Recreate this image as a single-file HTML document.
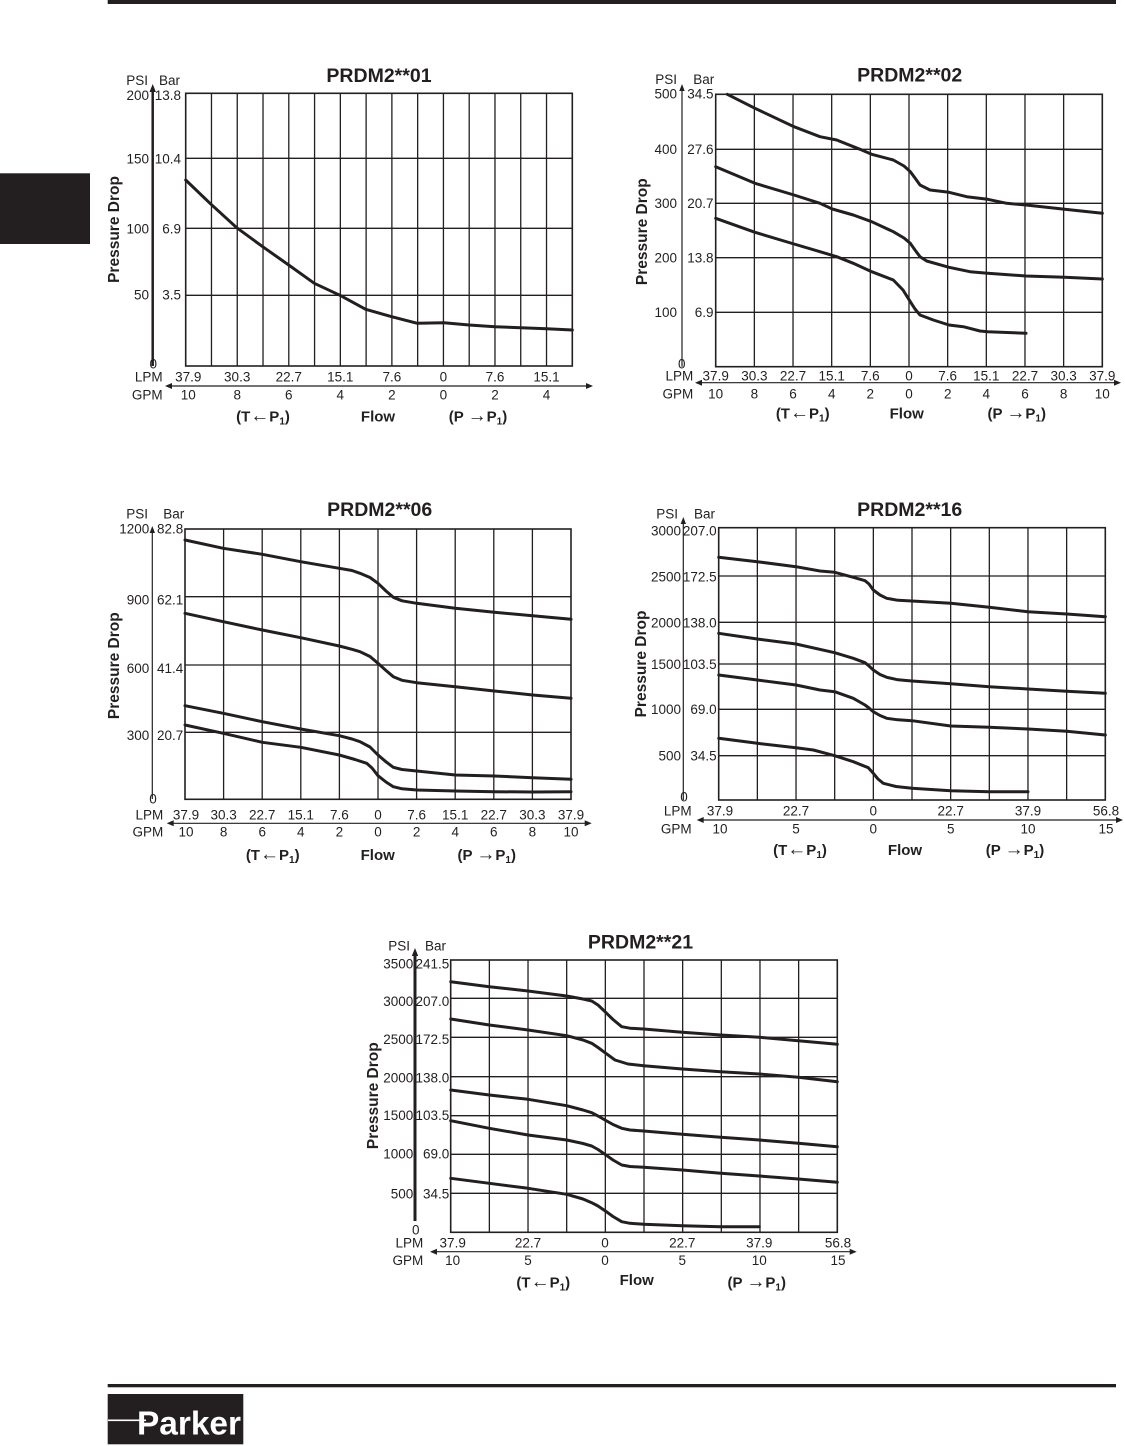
<!DOCTYPE html>
<html><head><meta charset="utf-8"><style>
html,body{margin:0;padding:0;background:#fff;}
svg{display:block;}
text{font-family:"Liberation Sans",Arial,sans-serif;fill:#231f20;}
.tk{font-size:13.5px;}
.e{text-anchor:end;}
.m{text-anchor:middle;}
.ttl{font-size:19.5px;font-weight:bold;text-anchor:middle;}
.pd{font-size:15.5px;font-weight:bold;text-anchor:middle;}
.fl{font-size:15px;font-weight:bold;text-anchor:middle;}
.ar{font-size:19px;font-weight:normal;}
.g{stroke:#231f20;stroke-width:1.3;fill:none;}
.bx{stroke:#231f20;stroke-width:1.6;fill:none;}
.c{stroke:#231f20;stroke-width:3;fill:none;stroke-linejoin:round;stroke-linecap:round;}
.ax{stroke:#231f20;stroke-width:1.2;}
</style></head><body>
<svg width="1125" height="1446" viewBox="0 0 1125 1446" xmlns="http://www.w3.org/2000/svg">
<rect x="0" y="0" width="1125" height="1446" fill="#fff"/>
<rect x="107.7" y="0" width="1008.3" height="4" fill="#231f20"/>
<rect x="0" y="173.3" width="90" height="70.7" fill="#231f20"/>

<!-- ================= CHART 1 ================= -->
<text class="ttl" x="379" y="82">PRDM2**01</text>
<text class="tk e" x="148" y="85">PSI</text>
<text class="tk" x="159" y="85">Bar</text>
<text class="tk e" x="149" y="100">200</text><text class="tk e" x="181" y="100">13.8</text>
<text class="tk e" x="149" y="163.3">150</text><text class="tk e" x="181" y="163.3">10.4</text>
<text class="tk e" x="149" y="233.3">100</text><text class="tk e" x="181" y="233.3">6.9</text>
<text class="tk e" x="149" y="299.3">50</text><text class="tk e" x="181" y="299.3">3.5</text>
<text class="tk m" x="153.3" y="368.3">0</text>
<path class="g" d="M211.47 93.3V366M237.25 93.3V366M263.02 93.3V366M288.79 93.3V366M314.57 93.3V366M340.34 93.3V366M366.11 93.3V366M391.88 93.3V366M417.66 93.3V366M443.43 93.3V366M469.2 93.3V366M494.98 93.3V366M520.75 93.3V366M546.52 93.3V366M185.7 158.3H572.3M185.7 228.3H572.3M185.7 295.3H572.3"/>
<rect class="bx" x="185.7" y="93.3" width="386.6" height="272.7"/>
<line x1="152.7" y1="366" x2="152.7" y2="90" stroke="#231f20" stroke-width="2.5"/>
<polygon points="152.7,84 149.5,92 155.9,92" fill="#231f20"/>
<line class="ax" x1="170" y1="386" x2="588" y2="386"/>
<polygon points="165,386 172,383 172,389" fill="#231f20"/>
<polygon points="593,386 586,383 586,389" fill="#231f20"/>
<text class="tk e" x="162.7" y="381.7">LPM</text>
<text class="tk e" x="162.7" y="399.3">GPM</text>
<g>
<text class="tk m" x="188.3" y="381.7">37.9</text><text class="tk m" x="237.2" y="381.7">30.3</text><text class="tk m" x="288.8" y="381.7">22.7</text><text class="tk m" x="340.3" y="381.7">15.1</text><text class="tk m" x="391.9" y="381.7">7.6</text><text class="tk m" x="443.4" y="381.7">0</text><text class="tk m" x="495" y="381.7">7.6</text><text class="tk m" x="546.5" y="381.7">15.1</text>
<text class="tk m" x="188.3" y="399.3">10</text><text class="tk m" x="237.2" y="399.3">8</text><text class="tk m" x="288.8" y="399.3">6</text><text class="tk m" x="340.3" y="399.3">4</text><text class="tk m" x="391.9" y="399.3">2</text><text class="tk m" x="443.4" y="399.3">0</text><text class="tk m" x="495" y="399.3">2</text><text class="tk m" x="546.5" y="399.3">4</text>
</g>
<text class="fl" x="263" y="421.7">(T<tspan class="ar">←</tspan>P<tspan font-size="10" dy="3">1</tspan><tspan dy="-3">)</tspan></text>
<text class="fl" x="378" y="421.7">Flow</text>
<text class="fl" x="478" y="421.7">(P <tspan class="ar">→</tspan>P<tspan font-size="10" dy="3">1</tspan><tspan dy="-3">)</tspan></text>
<text class="pd" transform="translate(119,229.5) rotate(-90)">Pressure Drop</text>
<polyline class="c" points="185.7,180 210,203.3 236.7,227.7 262.7,246.7 288.7,265 314.3,283.3 340,295.3 365.7,309.3 391.7,316.7 417.3,323.3 444,322.7 469,325 495,326.7 520.7,327.7 546.7,328.7 572.3,330"/>

<!-- ================= CHART 2 ================= -->
<text class="ttl" x="909.7" y="81.7">PRDM2**02</text>
<text class="tk e" x="677" y="84">PSI</text>
<text class="tk" x="693.3" y="84">Bar</text>
<text class="tk e" x="677" y="98.5">500</text><text class="tk e" x="713.5" y="98.5">34.5</text>
<text class="tk e" x="677" y="154">400</text><text class="tk e" x="713.5" y="154">27.6</text>
<text class="tk e" x="677" y="208">300</text><text class="tk e" x="713.5" y="208">20.7</text>
<text class="tk e" x="677" y="262.5">200</text><text class="tk e" x="713.5" y="262.5">13.8</text>
<text class="tk e" x="677" y="317">100</text><text class="tk e" x="713.5" y="317">6.9</text>
<text class="tk m" x="681.7" y="368.3">0</text>
<path class="g" d="M754.36 94.3V366.7M793.02 94.3V366.7M831.68 94.3V366.7M870.34 94.3V366.7M909 94.3V366.7M947.66 94.3V366.7M986.32 94.3V366.7M1024.98 94.3V366.7M1063.64 94.3V366.7M715.7 149.3H1102.3M715.7 203.3H1102.3M715.7 257.7H1102.3M715.7 312.3H1102.3"/>
<rect class="bx" x="715.7" y="94.3" width="386.6" height="272.4"/>
<line class="ax" x1="682" y1="366.7" x2="682" y2="89"/>
<polygon points="682,84 679.3,91 684.7,91" fill="#231f20"/>
<line class="ax" x1="700" y1="382.7" x2="1116" y2="382.7"/>
<polygon points="695,382.7 702,379.7 702,385.7" fill="#231f20"/>
<polygon points="1121,382.7 1114,379.7 1114,385.7" fill="#231f20"/>
<text class="tk e" x="693.3" y="380.7">LPM</text>
<text class="tk e" x="693.3" y="398.3">GPM</text>
<g>
<text class="tk m" x="715.7" y="380.7">37.9</text><text class="tk m" x="754.4" y="380.7">30.3</text><text class="tk m" x="793" y="380.7">22.7</text><text class="tk m" x="831.7" y="380.7">15.1</text><text class="tk m" x="870.3" y="380.7">7.6</text><text class="tk m" x="909" y="380.7">0</text><text class="tk m" x="947.7" y="380.7">7.6</text><text class="tk m" x="986.3" y="380.7">15.1</text><text class="tk m" x="1025" y="380.7">22.7</text><text class="tk m" x="1063.6" y="380.7">30.3</text><text class="tk m" x="1102.3" y="380.7">37.9</text>
<text class="tk m" x="715.7" y="398.3">10</text><text class="tk m" x="754.4" y="398.3">8</text><text class="tk m" x="793" y="398.3">6</text><text class="tk m" x="831.7" y="398.3">4</text><text class="tk m" x="870.3" y="398.3">2</text><text class="tk m" x="909" y="398.3">0</text><text class="tk m" x="947.7" y="398.3">2</text><text class="tk m" x="986.3" y="398.3">4</text><text class="tk m" x="1025" y="398.3">6</text><text class="tk m" x="1063.6" y="398.3">8</text><text class="tk m" x="1102.3" y="398.3">10</text>
</g>
<text class="fl" x="802.7" y="418.3">(T<tspan class="ar">←</tspan>P<tspan font-size="10" dy="3">1</tspan><tspan dy="-3">)</tspan></text>
<text class="fl" x="906.7" y="418.3">Flow</text>
<text class="fl" x="1016.7" y="418.3">(P <tspan class="ar">→</tspan>P<tspan font-size="10" dy="3">1</tspan><tspan dy="-3">)</tspan></text>
<text class="pd" transform="translate(647,231.7) rotate(-90)">Pressure Drop</text>
<polyline class="c" points="727.3,94.3 755,108.3 794,126.7 820,136.7 836.7,140 860,149.3 871.7,154.3 893.3,160 904,166 910.3,171.7 915,178 920,185 930,190 949,192.3 966.7,196.7 987.7,199.3 1006.7,203.3 1026,205 1064.7,209.3 1102.3,213.3"/>
<polyline class="c" points="715.7,166.7 755,183.3 794,195 820,203.3 832.3,209 853.3,215 871.7,221.7 893.3,231.7 904,238 910.3,243.3 915,250 920,256.7 926.7,261 949,267.3 970,271.7 987.7,273.3 1026,276 1064.7,277.3 1102.3,279"/>
<polyline class="c" points="715.7,218.3 755,232.3 794,244 820,251.7 836.7,256.7 853.3,263.3 871.7,271.7 893.3,280 903,290 910.3,301.7 915,309 920,315 933.3,320 949,325 963.3,326.7 980,331 987.7,331.7 1026,333.3"/>

<!-- ================= CHART 3 ================= -->
<text class="ttl" x="379.7" y="516">PRDM2**06</text>
<text class="tk e" x="148" y="518.3">PSI</text>
<text class="tk" x="163.3" y="518.3">Bar</text>
<text class="tk e" x="149.3" y="533.5">1200</text><text class="tk e" x="183.3" y="533.5">82.8</text>
<text class="tk e" x="149.3" y="604.7">900</text><text class="tk e" x="183.3" y="604.7">62.1</text>
<text class="tk e" x="149.3" y="673">600</text><text class="tk e" x="183.3" y="673">41.4</text>
<text class="tk e" x="149.3" y="740">300</text><text class="tk e" x="183.3" y="740">20.7</text>
<text class="tk m" x="153" y="803.3">0</text>
<path class="g" d="M223.6 529V799.3M262.2 529V799.3M300.8 529V799.3M339.4 529V799.3M378 529V799.3M416.6 529V799.3M455.2 529V799.3M493.8 529V799.3M532.4 529V799.3M185 596.7H571M185 665H571M185 732.3H571"/>
<rect class="bx" x="185" y="529" width="386" height="270.3"/>
<line class="ax" x1="152.3" y1="799" x2="152.3" y2="531"/>
<polygon points="152.3,526 149.6,533 155,533" fill="#231f20"/>
<line class="ax" x1="171.7" y1="823.3" x2="586.7" y2="823.3"/>
<polygon points="166.7,823.3 173.7,820.3 173.7,826.3" fill="#231f20"/>
<polygon points="591.7,823.3 584.7,820.3 584.7,826.3" fill="#231f20"/>
<text class="tk e" x="163.3" y="819.3">LPM</text>
<text class="tk e" x="163.3" y="836.7">GPM</text>
<g>
<text class="tk m" x="186" y="819.3">37.9</text><text class="tk m" x="223.6" y="819.3">30.3</text><text class="tk m" x="262.2" y="819.3">22.7</text><text class="tk m" x="300.8" y="819.3">15.1</text><text class="tk m" x="339.4" y="819.3">7.6</text><text class="tk m" x="378" y="819.3">0</text><text class="tk m" x="416.6" y="819.3">7.6</text><text class="tk m" x="455.2" y="819.3">15.1</text><text class="tk m" x="493.8" y="819.3">22.7</text><text class="tk m" x="532.4" y="819.3">30.3</text><text class="tk m" x="571" y="819.3">37.9</text>
<text class="tk m" x="186" y="836.7">10</text><text class="tk m" x="223.6" y="836.7">8</text><text class="tk m" x="262.2" y="836.7">6</text><text class="tk m" x="300.8" y="836.7">4</text><text class="tk m" x="339.4" y="836.7">2</text><text class="tk m" x="378" y="836.7">0</text><text class="tk m" x="416.6" y="836.7">2</text><text class="tk m" x="455.2" y="836.7">4</text><text class="tk m" x="493.8" y="836.7">6</text><text class="tk m" x="532.4" y="836.7">8</text><text class="tk m" x="571" y="836.7">10</text>
</g>
<text class="fl" x="272.7" y="860">(T<tspan class="ar">←</tspan>P<tspan font-size="10" dy="3">1</tspan><tspan dy="-3">)</tspan></text>
<text class="fl" x="377.7" y="860">Flow</text>
<text class="fl" x="486.7" y="860">(P <tspan class="ar">→</tspan>P<tspan font-size="10" dy="3">1</tspan><tspan dy="-3">)</tspan></text>
<text class="pd" transform="translate(119,665.7) rotate(-90)">Pressure Drop</text>
<polyline class="c" points="185,540 223.3,548.3 262.3,554.3 300.7,561.7 339.3,568.3 352,570.5 360,573.3 370,577.5 378,583.3 386,591 393.3,597.3 402,600.8 416.7,603.3 455.3,608.3 494.3,612.3 532.7,615.7 571,619.3"/>
<polyline class="c" points="185,613.3 223.3,621.7 262.3,630 300.7,637.7 339.3,646 352,649.3 360,651.7 370,656.5 378,663.3 386,670.5 393.3,676.7 402,680.3 416.7,682.7 455.3,686.7 494.3,691 532.7,695 571,698.3"/>
<polyline class="c" points="185,705.7 223.3,713.3 262.3,721.7 300.7,729 339.3,735.7 352,739 360,741.7 370,747 378,755 386,761.8 393.3,767.3 402,769.5 416.7,771 455.3,775 494.3,776 532.7,777.7 571,779.3"/>
<polyline class="c" points="185,725 223.3,733.3 262.3,742.3 300.7,747.3 339.3,755 355,759.5 366.7,763.3 372,768 378,775.7 386,782 393.3,786.7 402,788.8 416.7,790 455.3,791 494.3,791.7 532.7,792 571,791.7"/>

<!-- ================= CHART 4 ================= -->
<text class="ttl" x="909.7" y="516">PRDM2**16</text>
<text class="tk e" x="678" y="518.3">PSI</text>
<text class="tk" x="694" y="518.3">Bar</text>
<text class="tk e" x="681" y="535.5">3000</text><text class="tk e" x="716.7" y="535.5">207.0</text>
<text class="tk e" x="681" y="581.5">2500</text><text class="tk e" x="716.7" y="581.5">172.5</text>
<text class="tk e" x="681" y="627.3">2000</text><text class="tk e" x="716.7" y="627.3">138.0</text>
<text class="tk e" x="681" y="669">1500</text><text class="tk e" x="716.7" y="669">103.5</text>
<text class="tk e" x="681" y="714">1000</text><text class="tk e" x="716.7" y="714">69.0</text>
<text class="tk e" x="681" y="760.7">500</text><text class="tk e" x="716.7" y="760.7">34.5</text>
<text class="tk m" x="684" y="801.7">0</text>
<path class="g" d="M757.36 527.7V800M796.02 527.7V800M834.68 527.7V800M873.34 527.7V800M912 527.7V800M950.66 527.7V800M989.32 527.7V800M1027.98 527.7V800M1066.64 527.7V800M718.7 576H1105.3M718.7 622.3H1105.3M718.7 664H1105.3M718.7 709.3H1105.3M718.7 755.7H1105.3"/>
<rect class="bx" x="718.7" y="527.7" width="386.6" height="272.3"/>
<line class="ax" x1="683.3" y1="800" x2="683.3" y2="522" stroke-width="1.5"/>
<polygon points="683.3,517 680.6,524 686,524" fill="#231f20"/>
<line class="ax" x1="701.7" y1="820" x2="1118" y2="820"/>
<polygon points="696.7,820 703.7,817 703.7,823" fill="#231f20"/>
<polygon points="1123,820 1116,817 1116,823" fill="#231f20"/>
<text class="tk e" x="691.7" y="815.7">LPM</text>
<text class="tk e" x="691.7" y="833.3">GPM</text>
<g>
<text class="tk m" x="720" y="815.7">37.9</text><text class="tk m" x="796" y="815.7">22.7</text><text class="tk m" x="873.3" y="815.7">0</text><text class="tk m" x="950.7" y="815.7">22.7</text><text class="tk m" x="1028" y="815.7">37.9</text><text class="tk m" x="1106" y="815.7">56.8</text>
<text class="tk m" x="720" y="833.3">10</text><text class="tk m" x="796" y="833.3">5</text><text class="tk m" x="873.3" y="833.3">0</text><text class="tk m" x="950.7" y="833.3">5</text><text class="tk m" x="1028" y="833.3">10</text><text class="tk m" x="1106" y="833.3">15</text>
</g>
<text class="fl" x="800" y="855">(T<tspan class="ar">←</tspan>P<tspan font-size="10" dy="3">1</tspan><tspan dy="-3">)</tspan></text>
<text class="fl" x="905" y="855">Flow</text>
<text class="fl" x="1015" y="855">(P <tspan class="ar">→</tspan>P<tspan font-size="10" dy="3">1</tspan><tspan dy="-3">)</tspan></text>
<text class="pd" transform="translate(646,664) rotate(-90)">Pressure Drop</text>
<polyline class="c" points="718.7,557.3 757.3,561.7 796,566.7 820,571 834.7,572.3 853.3,577.3 865,580.7 869,584 873.3,590 880,595 886.7,598.3 898,600.3 912,601 950.7,603.3 989.3,607.3 1028,611.7 1066.7,614 1105.3,616.7"/>
<polyline class="c" points="718.7,633.3 757.3,639 796,644 834.7,652.7 853.3,658.3 865,662.7 869,666 873.3,670 880,674.5 886.7,677.3 898,679.8 912,681 950.7,683.7 989.3,686.7 1028,689 1066.7,691.3 1105.3,693.3"/>
<polyline class="c" points="718.7,675 757.3,680 796,685 820,690 834.7,691.7 853.3,698.3 865,705 869,708 873.3,711.7 880,715.5 886.7,718.3 898,719.8 912,720.7 950.7,726 989.3,727.3 1028,729 1066.7,731.3 1105.3,735"/>
<polyline class="c" points="718.7,738.3 757.3,743.3 796,747.7 813.3,750 834.7,755.7 853.3,761.7 868.3,767.7 873.3,773.3 878,779 883.3,783.3 896,786.5 912,788.3 950.7,790.7 989.3,791.7 1028,791.7"/>

<!-- ================= CHART 5 ================= -->
<text class="ttl" x="640.5" y="948.3">PRDM2**21</text>
<text class="tk e" x="410" y="950.7">PSI</text>
<text class="tk" x="425" y="950.7">Bar</text>
<text class="tk e" x="413.3" y="968.3">3500</text><text class="tk e" x="449.3" y="968.3">241.5</text>
<text class="tk e" x="413.3" y="1006">3000</text><text class="tk e" x="449.3" y="1006">207.0</text>
<text class="tk e" x="413.3" y="1044">2500</text><text class="tk e" x="449.3" y="1044">172.5</text>
<text class="tk e" x="413.3" y="1082.7">2000</text><text class="tk e" x="449.3" y="1082.7">138.0</text>
<text class="tk e" x="413.3" y="1120">1500</text><text class="tk e" x="449.3" y="1120">103.5</text>
<text class="tk e" x="413.3" y="1158.3">1000</text><text class="tk e" x="449.3" y="1158.3">69.0</text>
<text class="tk e" x="413.3" y="1198.3">500</text><text class="tk e" x="449.3" y="1198.3">34.5</text>
<text class="tk m" x="415.7" y="1234.3">0</text>
<path class="g" d="M489.36 960V1232.3M528.02 960V1232.3M566.68 960V1232.3M605.34 960V1232.3M644 960V1232.3M682.66 960V1232.3M721.32 960V1232.3M759.98 960V1232.3M798.64 960V1232.3M450.7 998.3H837.3M450.7 1037.3H837.3M450.7 1076.7H837.3M450.7 1115.7H837.3M450.7 1154.3H837.3M450.7 1193.3H837.3"/>
<rect class="bx" x="450.7" y="960" width="386.6" height="272.3"/>
<line x1="415" y1="1221" x2="415" y2="954" stroke="#231f20" stroke-width="3"/>
<polygon points="415,948 411.8,956 418.2,956" fill="#231f20"/>
<line class="ax" x1="435" y1="1251.7" x2="851.7" y2="1251.7"/>
<polygon points="430,1251.7 437,1248.7 437,1254.7" fill="#231f20"/>
<polygon points="856.7,1251.7 849.7,1248.7 849.7,1254.7" fill="#231f20"/>
<text class="tk e" x="423.3" y="1247.3">LPM</text>
<text class="tk e" x="423.3" y="1265">GPM</text>
<g>
<text class="tk m" x="452.7" y="1247.3">37.9</text><text class="tk m" x="528" y="1247.3">22.7</text><text class="tk m" x="605" y="1247.3">0</text><text class="tk m" x="682.3" y="1247.3">22.7</text><text class="tk m" x="759.3" y="1247.3">37.9</text><text class="tk m" x="838" y="1247.3">56.8</text>
<text class="tk m" x="452.7" y="1265">10</text><text class="tk m" x="528" y="1265">5</text><text class="tk m" x="605" y="1265">0</text><text class="tk m" x="682.3" y="1265">5</text><text class="tk m" x="759.3" y="1265">10</text><text class="tk m" x="838" y="1265">15</text>
</g>
<text class="fl" x="543.3" y="1287.3">(T<tspan class="ar">←</tspan>P<tspan font-size="10" dy="3">1</tspan><tspan dy="-3">)</tspan></text>
<text class="fl" x="636.7" y="1285">Flow</text>
<text class="fl" x="756.7" y="1287.3">(P <tspan class="ar">→</tspan>P<tspan font-size="10" dy="3">1</tspan><tspan dy="-3">)</tspan></text>
<text class="pd" transform="translate(378,1095.7) rotate(-90)">Pressure Drop</text>
<polyline class="c" points="450.7,981.7 489.3,986.7 528,991 566.7,996 583,999 591.7,1001 598,1005 605,1011.7 613,1019.5 621.7,1026.7 630,1028.2 643.7,1029 682.3,1032.3 720.7,1035 759.3,1037.3 798.3,1040.7 837.3,1044.3"/>
<polyline class="c" points="450.7,1019 489.3,1025 528,1030 566.7,1035.7 583,1040 591.7,1043.3 598,1047.5 605,1052.7 615,1060 628,1064 643.7,1065.7 682.3,1069 720.7,1071.7 759.3,1074 798.3,1077.3 837.3,1081.7"/>
<polyline class="c" points="450.7,1090 489.3,1095 528,1099.3 566.7,1105.7 583,1110 591.7,1112.7 598,1116 605,1120 613,1124.5 621.7,1128.3 630,1130 643.7,1131 682.3,1134.3 720.7,1137.3 759.3,1140 798.3,1143.3 837.3,1146.7"/>
<polyline class="c" points="450.7,1120.7 489.3,1128.3 528,1135 566.7,1140 583,1143.5 591.7,1146 598,1149.5 605,1154.3 613,1160 621.7,1165 630,1166.5 643.7,1167.3 682.3,1170 720.7,1173.3 759.3,1176 798.3,1179 837.3,1182.3"/>
<polyline class="c" points="450.7,1178.3 489.3,1183.3 528,1188.3 566.7,1194.3 583,1199 591.7,1202.7 598,1206 605,1210.7 613,1216.5 621.7,1221.7 630,1223.3 643.7,1224.3 682.3,1225.7 720.7,1226.7 759.3,1226.7"/>

<!-- ================= FOOTER ================= -->
<rect x="107.7" y="1384" width="1008.3" height="3.3" fill="#231f20"/>
<rect x="107.7" y="1394" width="135.6" height="50.3" fill="#231f20"/>
<rect x="108" y="1419.5" width="38" height="1.6" fill="#fff"/>
<text x="137" y="1434.3" font-size="33" font-weight="bold" style="fill:#fff" textLength="104" lengthAdjust="spacingAndGlyphs">Parker</text>
</svg>
</body></html>
